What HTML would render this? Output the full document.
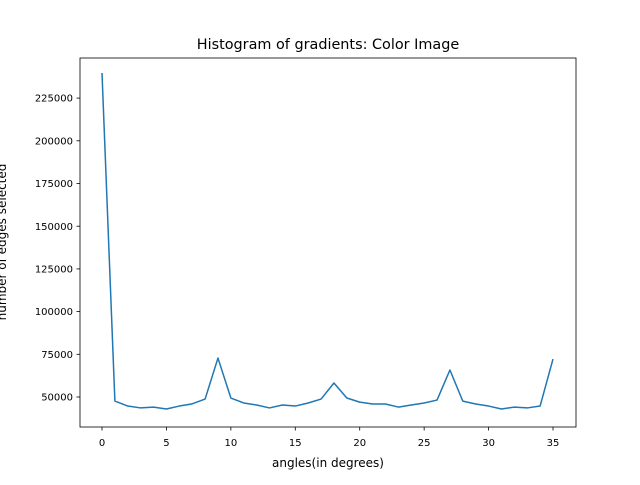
<!DOCTYPE html>
<html><head><meta charset="utf-8"><style>
body{margin:0;background:#fff;width:640px;height:480px;overflow:hidden}
svg text{font-family:"DejaVu Sans","Liberation Sans",sans-serif;fill:#000}
</style></head><body>
<svg id="chart" width="640" height="480">
<text x="328" y="49" text-anchor="middle" font-size="14.4">Histogram of gradients: Color Image</text>
<rect x="80" y="58" width="496" height="369" fill="none" stroke="#000" stroke-width="0.8"/>
<g id="xt"></g>
<g id="yt"></g>
<text x="328" y="467" text-anchor="middle" font-size="12">angles(in degrees)</text>
<text transform="translate(6,242) rotate(-90)" text-anchor="middle" font-size="12">number of edges selected</text>
<path id="line" fill="none" stroke="#1f77b4" stroke-width="1.5" stroke-linejoin="round"/>
</svg>
<script>
const angles=[0,1,2,3,4,5,6,7,8,9,10,11,12,13,14,15,16,17,18,19,20,21,22,23,24,25,26,27,28,29,30,31,32,33,34,35];
const counts=[239700,47600,44700,43600,44100,43000,44700,46000,48800,72800,49400,46500,45300,43600,45300,44700,46500,48800,58200,49400,47000,45900,45900,44100,45300,46500,48200,65800,47600,45900,44700,43000,44100,43600,44700,72200];
const xTicks=[0,5,10,15,20,25,30,35];
const yTicks=[50000,75000,100000,125000,150000,175000,200000,225000];
const sx=v=>102+v*(553-102)/35;
const sy=v=>397-(v-50000)*42.7/25000;
const NS="http://www.w3.org/2000/svg";
const xt=document.getElementById('xt'),yt=document.getElementById('yt');
xTicks.forEach(t=>{
 const l=document.createElementNS(NS,'line');
 l.setAttribute('x1',sx(t));l.setAttribute('x2',sx(t));l.setAttribute('y1',427);l.setAttribute('y2',430.5);l.setAttribute('stroke','#000');l.setAttribute('stroke-width','0.8');
 
 
 xt.appendChild(l);
 const tx=document.createElementNS(NS,'text');
 tx.setAttribute('x',sx(t));tx.setAttribute('y',446);tx.setAttribute('text-anchor','middle');tx.setAttribute('font-size','10');
 tx.textContent=t;
 
 
 xt.appendChild(tx);
});
yTicks.forEach(t=>{
 const l=document.createElementNS(NS,'line');
 l.setAttribute('x1',76.5);l.setAttribute('x2',80);l.setAttribute('y1',sy(t));l.setAttribute('y2',sy(t));l.setAttribute('stroke','#000');l.setAttribute('stroke-width','0.8');
 
 
 yt.appendChild(l);
 const tx=document.createElementNS(NS,'text');
 tx.setAttribute('x',73);tx.setAttribute('y',sy(t)+3.6);tx.setAttribute('text-anchor','end');tx.setAttribute('font-size','10');
 tx.textContent=t;
 
 
 yt.appendChild(tx);
});
document.getElementById('line').setAttribute('d',angles.map((a,i)=>(i?'L':'M')+sx(a).toFixed(2)+','+sy(counts[i]).toFixed(2)).join(' '));
</script>
</body></html>
